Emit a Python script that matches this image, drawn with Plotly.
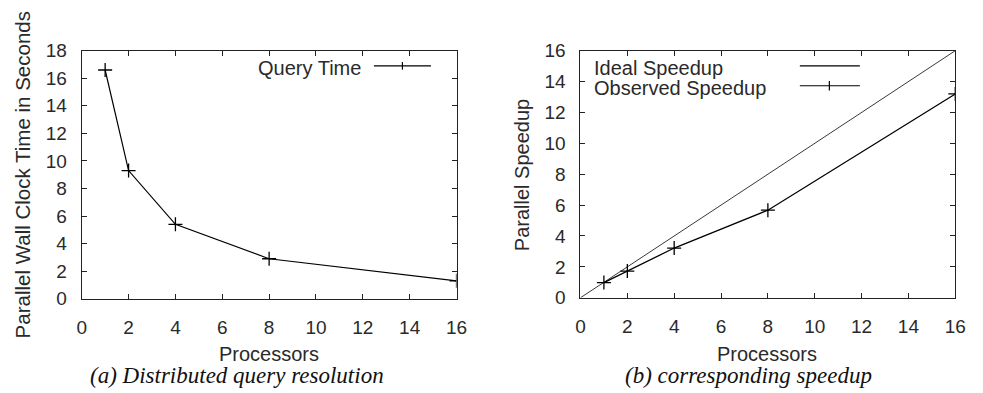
import plotly.graph_objects as go

processors = [1, 2, 4, 8, 16]
query_time = [16.6, 9.3, 5.4, 2.9, 1.3]
ideal_x = [0, 16]
ideal_speedup = [0, 16]
observed_speedup = [0.98, 1.73, 3.22, 5.67, 13.2]

x_ticks = [0, 2, 4, 6, 8, 10, 12, 14, 16]
y_ticks_left = [0, 2, 4, 6, 8, 10, 12, 14, 16, 18]
y_ticks_right = [0, 2, 4, 6, 8, 10, 12, 14, 16]

W, H = 983, 393
fig = go.Figure()

fig.add_trace(go.Scatter(x=processors, y=query_time, mode="lines+markers",
                         line=dict(color="black", width=1.2),
                         marker=dict(symbol="cross-thin-open", size=10,
                                     line=dict(color="black", width=1.3)),
                         xaxis="x", yaxis="y", showlegend=False))
fig.add_trace(go.Scatter(x=ideal_x, y=ideal_speedup, mode="lines",
                         line=dict(color="#222", width=0.9),
                         xaxis="x2", yaxis="y2", showlegend=False))
fig.add_trace(go.Scatter(x=processors, y=observed_speedup, mode="lines+markers",
                         line=dict(color="black", width=1.3),
                         marker=dict(symbol="cross-thin-open", size=10,
                                     line=dict(color="black", width=1.3)),
                         xaxis="x2", yaxis="y2", showlegend=False))

tickfont = dict(family="Liberation Sans, Arial", size=19, color="#2a2a2a")
axis_common = dict(showline=True, linecolor="#222", linewidth=1, mirror="allticks",
                   ticks="inside", ticklen=5, tickcolor="#222", tickwidth=1,
                   showgrid=False, zeroline=False, tickfont=tickfont)

def px(xp):
    return xp / W

def py(yp):
    return 1 - yp / H

fig.update_layout(
    width=W, height=H,
    margin=dict(l=0, r=0, t=0, b=0),
    paper_bgcolor="white", plot_bgcolor="white",
    xaxis=dict(domain=[px(78), px(459)], range=[0, 16], tickvals=x_ticks,
               anchor="y", ticklabelstandoff=11, **axis_common),
    yaxis=dict(domain=[py(305), py(43)], range=[0, 18], tickvals=y_ticks_left,
               anchor="x", ticklabelstandoff=10, **axis_common),
    xaxis2=dict(domain=[px(585), px(966)], range=[0, 16], tickvals=x_ticks,
                anchor="y2", ticklabelstandoff=11, **axis_common),
    yaxis2=dict(domain=[py(304), py(43)], range=[0, 16], tickvals=y_ticks_right,
                anchor="x2", ticklabelstandoff=10, **axis_common),
)

sans = dict(family="Liberation Sans, Arial", size=20, color="#2a2a2a")
serif = dict(family="Liberation Serif, Times New Roman", size=23, color="#111")

ann = []
ann.append(dict(text="Processors", x=px(268), y=py(363), font=sans))
ann.append(dict(text="Processors", x=px(775), y=py(363), font=sans))
ann.append(dict(text="<i>(a) Distributed query resolution</i>", x=px(236), y=py(386), font=serif))
ann.append(dict(text="<i>(b) corresponding speedup</i>", x=px(756), y=py(386), font=serif))
ann.append(dict(text="Parallel Wall Clock Time in Seconds", x=px(18), y=py(174), textangle=-90, font=dict(sans, size=20.5)))
ann.append(dict(text="Parallel Speedup", x=px(525), y=py(174), textangle=-90, font=sans))
# legends
ann.append(dict(text="Query Time", x=px(364), y=py(61), xanchor="right", font=sans))
ann.append(dict(text="Ideal Speedup", x=px(597), y=py(61), xanchor="left", font=sans))
ann.append(dict(text="Observed Speedup", x=px(597), y=py(82), xanchor="left", font=sans))
for a in ann:
    a.update(xref="paper", yref="paper", showarrow=False)
    a.setdefault("xanchor", "center")
    a.setdefault("yanchor", "middle")
fig.update_layout(annotations=ann)

shapes = []
shapes.append(dict(type="line", x0=px(375), x1=px(433), y0=py(59), y1=py(59)))
shapes.append(dict(type="line", x0=px(404), x1=px(404), y0=py(55), y1=py(63)))
shapes.append(dict(type="line", x0=px(808), x1=px(869), y0=py(59), y1=py(59)))
shapes.append(dict(type="line", x0=px(808), x1=px(869), y0=py(80), y1=py(80)))
shapes.append(dict(type="line", x0=px(838), x1=px(838), y0=py(75), y1=py(85)))
for s in shapes:
    s.update(xref="paper", yref="paper", line=dict(color="black", width=1.2))
fig.update_layout(shapes=shapes)

fig.write_html("out.html")
